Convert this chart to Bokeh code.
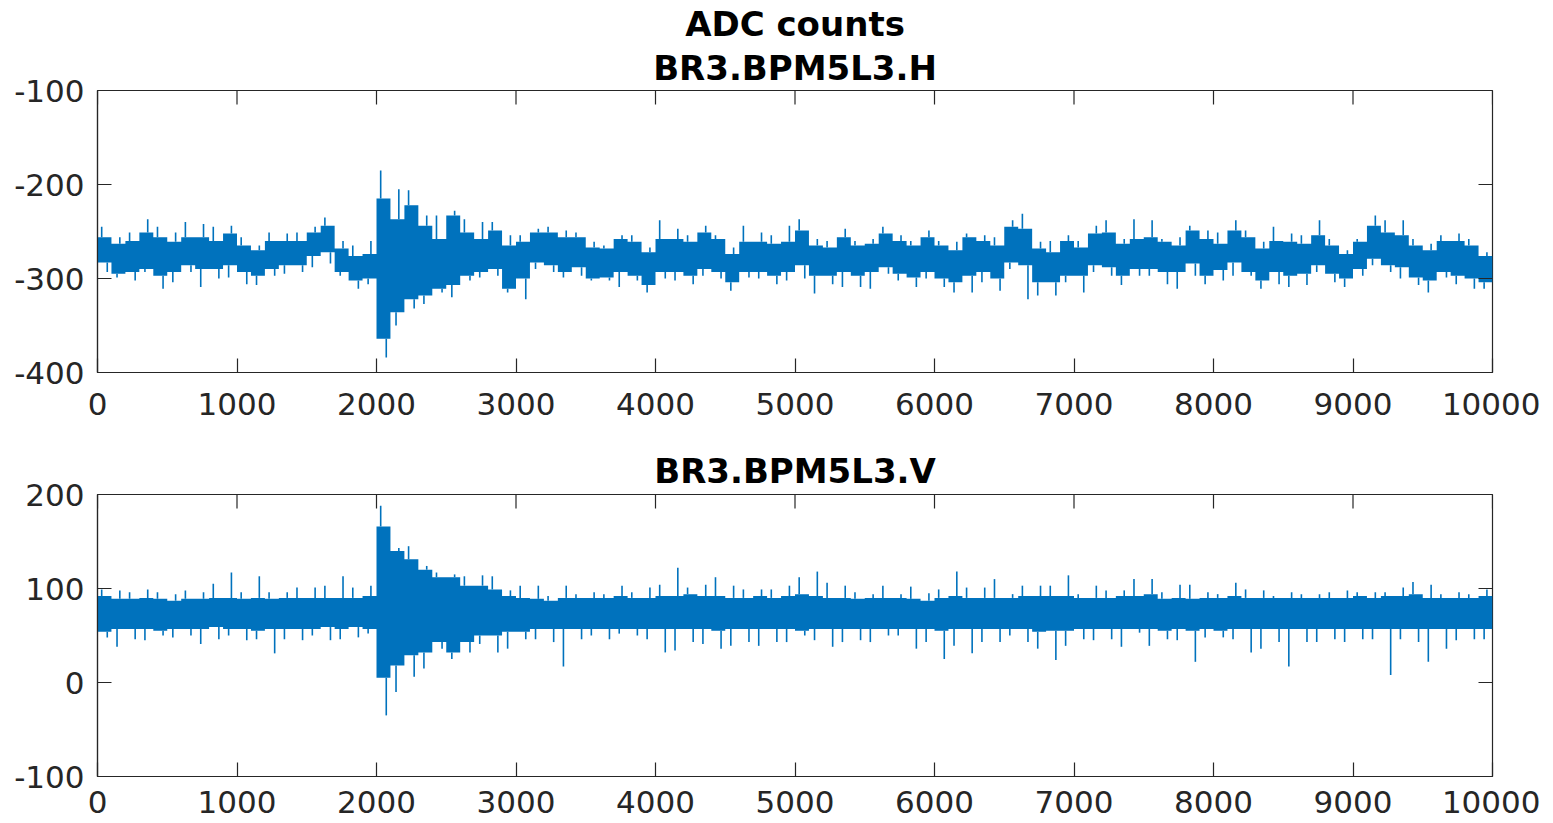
import numpy as np
from bokeh.plotting import figure
from bokeh.layouts import column, row
from bokeh.models import Range1d, FixedTicker, Title, PrintfTickFormatter, Spacer
from bokeh.embed import file_html
from bokeh.resources import INLINE

# ---------------- data (100-sample bins) ----------------
bin_start = list(range(0, 10000, 100))
x_ticks = list(range(0, 10001, 1000))
h_ticks = [-400, -300, -200, -100]
v_ticks = [-100, 0, 100, 200]

main_title = "ADC counts"
h_title = "BR3.BPM5L3.H"
v_title = "BR3.BPM5L3.V"

# horizontal channel: dense band top / bottom, spike extremes
h_core_hi = [-256, -263, -260, -251, -256, -261, -256, -256, -260, -252,
             -265, -270, -260, -260, -260, -251, -244, -268, -276, -274,
             -215, -237, -222, -244, -258, -233, -251, -258, -249, -265,
             -261, -251, -251, -256, -256, -267, -268, -258, -261, -272,
             -258, -258, -261, -251, -258, -274, -261, -261, -263, -261,
             -249, -265, -267, -256, -265, -263, -252, -260, -265, -256,
             -265, -270, -256, -260, -265, -245, -247, -268, -272, -260,
             -267, -252, -251, -263, -258, -256, -261, -265, -249, -258,
             -263, -249, -256, -268, -260, -261, -263, -254, -265, -274,
             -261, -244, -251, -254, -265, -270, -260, -260, -265, -276]
h_core_lo = [-283, -295, -293, -290, -297, -293, -286, -290, -290, -286,
             -293, -297, -290, -286, -286, -276, -272, -293, -302, -300,
             -364, -336, -322, -318, -311, -307, -297, -293, -290, -311,
             -300, -283, -286, -293, -288, -300, -299, -293, -297, -307,
             -293, -293, -297, -290, -293, -304, -293, -293, -297, -293,
             -286, -297, -297, -293, -297, -293, -288, -295, -299, -293,
             -300, -304, -297, -293, -300, -283, -286, -304, -304, -297,
             -297, -286, -288, -297, -290, -290, -293, -293, -284, -297,
             -291, -283, -293, -302, -293, -297, -295, -286, -295, -300,
             -290, -279, -286, -288, -299, -302, -293, -297, -300, -304]
h_spike_hi = [-245, -256, -251, -237, -245, -251, -240, -242, -245, -244,
              -256, -265, -251, -252, -251, -245, -235, -260, -265, -260,
              -185, -205, -206, -233, -233, -228, -237, -240, -240, -254,
              -254, -247, -245, -249, -251, -261, -265, -254, -254, -267,
              -238, -247, -254, -244, -254, -267, -244, -251, -254, -244,
              -237, -258, -260, -247, -260, -258, -245, -254, -260, -249,
              -260, -261, -252, -254, -256, -238, -231, -261, -260, -254,
              -260, -244, -238, -258, -237, -238, -258, -256, -244, -249,
              -251, -238, -249, -261, -245, -252, -254, -238, -258, -270,
              -258, -233, -238, -238, -258, -263, -254, -252, -258, -272]
h_spike_lo = [-293, -299, -302, -293, -311, -304, -293, -309, -300, -299,
              -306, -307, -297, -295, -293, -288, -284, -297, -311, -306,
              -384, -350, -332, -327, -315, -320, -302, -299, -297, -315,
              -322, -290, -293, -299, -297, -302, -302, -309, -302, -315,
              -300, -302, -306, -297, -300, -313, -299, -300, -306, -302,
              -300, -316, -306, -309, -309, -311, -295, -302, -309, -300,
              -309, -315, -315, -304, -313, -290, -322, -318, -318, -304,
              -315, -293, -297, -307, -297, -297, -306, -311, -297, -306,
              -302, -297, -297, -311, -306, -309, -307, -293, -304, -309,
              -297, -286, -293, -300, -307, -315, -299, -306, -311, -311]

# vertical channel
v_core_hi = [92, 89, 89, 90, 89, 87, 89, 89, 90, 90,
             89, 90, 89, 90, 90, 90, 90, 90, 90, 92,
             166, 140, 131, 120, 112, 112, 103, 103, 99, 92,
             90, 89, 87, 90, 90, 90, 90, 92, 90, 90,
             92, 92, 94, 92, 92, 90, 90, 92, 90, 92,
             94, 92, 90, 90, 89, 90, 90, 90, 89, 87,
             90, 92, 90, 90, 90, 90, 92, 92, 92, 92,
             90, 90, 90, 92, 92, 94, 89, 90, 89, 90,
             90, 92, 90, 90, 90, 90, 90, 90, 90, 90,
             92, 90, 92, 92, 94, 90, 90, 90, 90, 92]
v_core_lo = [54, 57, 57, 57, 55, 57, 57, 57, 59, 57,
             57, 55, 57, 57, 57, 57, 59, 57, 59, 57,
             5, 18, 29, 32, 43, 32, 43, 50, 50, 54,
             54, 57, 57, 57, 57, 57, 57, 57, 57, 57,
             57, 57, 57, 57, 55, 57, 57, 57, 57, 57,
             55, 57, 57, 57, 57, 57, 57, 57, 57, 57,
             55, 57, 57, 57, 57, 57, 57, 54, 55, 55,
             57, 57, 57, 57, 57, 57, 55, 57, 55, 57,
             55, 57, 57, 57, 57, 57, 57, 57, 57, 57,
             57, 57, 57, 57, 57, 57, 57, 57, 57, 57]
v_spike_hi = [99, 98, 96, 99, 96, 94, 98, 96, 105, 117,
              96, 113, 96, 96, 101, 101, 103, 113, 101, 103,
              188, 143, 145, 124, 117, 115, 113, 114, 113, 98,
              103, 103, 92, 103, 94, 96, 94, 103, 96, 101,
              104, 122, 101, 104, 112, 103, 99, 99, 99, 103,
              112, 118, 106, 103, 96, 94, 103, 94, 102, 95,
              99, 118, 101, 101, 110, 94, 103, 103, 103, 114,
              94, 103, 98, 98, 110, 110, 96, 104, 104, 96,
              94, 106, 99, 98, 92, 96, 94, 94, 96, 98,
              96, 96, 96, 101, 107, 104, 94, 96, 94, 99]
v_spike_lo = [48, 38, 46, 45, 50, 48, 50, 41, 46, 50,
              45, 46, 31, 46, 45, 50, 45, 46, 48, 52,
              -35, -10, 6, 15, 36, 25, 32, 41, 32, 36,
              46, 46, 43, 17, 46, 50, 46, 52, 50, 46,
              32, 34, 43, 41, 36, 39, 43, 39, 43, 43,
              50, 45, 38, 43, 45, 43, 50, 50, 36, 43,
              25, 39, 31, 43, 43, 50, 43, 36, 24, 39,
              46, 45, 46, 38, 53, 39, 46, 45, 22, 48,
              48, 46, 32, 36, 43, 17, 43, 43, 46, 43,
              46, 46, 8, 46, 43, 22, 36, 45, 46, 46]

# ---------------- styling ----------------
BLUE = "#0072BD"
AX = "#262626"
FONT = "DejaVu Sans"
BIN = 100
TICK_LEN = 14


def make_panel(y_lo, y_hi, yticks, core_hi, core_lo, spk_hi, spk_lo, titles,
               title_standoffs, top_border, bottom_border, x_standoff):
    p = figure(frame_width=1395, frame_height=282,
               x_range=Range1d(0, 10000), y_range=Range1d(y_lo, y_hi),
               output_backend="svg", toolbar_location=None, title=None,
               min_border_left=81, min_border_right=48,
               min_border_top=top_border, min_border_bottom=bottom_border)
    p.background_fill_color = "white"
    p.border_fill_color = "white"
    p.outline_line_color = AX
    p.outline_line_width = 1.2
    p.xgrid.visible = False
    p.ygrid.visible = False

    xs = np.array(bin_start, dtype=float)
    ch = np.array(core_hi, float)
    cl = np.array(core_lo, float)
    # dense band, one step per 100-sample bin
    xe = np.append(xs, 10000.0)
    p.varea_step(x=xe, y1=np.append(cl, cl[-1]), y2=np.append(ch, ch[-1]),
                 step_mode="after", fill_color=BLUE)
    # spikes rising above and dropping below the dense band
    off_hi = np.where(np.arange(len(xs)) % 2 == 0, 0.3, 0.6) * BIN
    off_lo = np.where(np.arange(len(xs)) % 2 == 0, 0.7, 0.4) * BIN
    p.segment(x0=xs + off_hi, y0=ch, x1=xs + off_hi, y1=np.array(spk_hi, float),
              line_color=BLUE, line_width=1.6)
    p.segment(x0=xs + off_lo, y0=cl, x1=xs + off_lo, y1=np.array(spk_lo, float),
              line_color=BLUE, line_width=1.6)

    def style_axis(ax, ticks, standoff):
        ax.ticker = FixedTicker(ticks=ticks)
        ax.formatter = PrintfTickFormatter(format="%d")
        ax.axis_line_color = AX
        ax.axis_line_width = 1.2
        ax.major_tick_line_color = AX
        ax.major_tick_line_width = 1.2
        ax.major_tick_in = TICK_LEN
        ax.major_tick_out = 0
        ax.minor_tick_line_color = None
        ax.major_label_text_font = FONT
        ax.major_label_text_font_size = "31px"
        ax.major_label_text_color = AX
        ax.major_label_standoff = standoff

    style_axis(p.xaxis[0], x_ticks, x_standoff)
    style_axis(p.yaxis[0], yticks, 13)

    # tick marks on the top and right edges of the box (MATLAB style)
    p.ray(x=x_ticks, y=[y_hi] * len(x_ticks), length=TICK_LEN, length_units="screen",
          angle=-np.pi / 2, line_color=AX, line_width=1.2)
    p.ray(x=[10000] * len(yticks), y=yticks, length=TICK_LEN, length_units="screen",
          angle=np.pi, line_color=AX, line_width=1.2)

    for t, s in zip(titles, title_standoffs):
        p.add_layout(Title(text=t, align="center", text_font=FONT,
                           text_font_size="34px", text_font_style="bold",
                           text_color="black", standoff=s), "above")
    return p


p1 = make_panel(-400, -100, h_ticks, h_core_hi, h_core_lo, h_spike_hi, h_spike_lo,
                [h_title, main_title], [5, -1], 80, 56, 20)
p2 = make_panel(-100, 200, v_ticks, v_core_hi, v_core_lo, v_spike_hi, v_spike_lo,
                [v_title], [8], 66, 40, 14)

layout = row(Spacer(width=11),
             column(Spacer(height=2), p1, p2, spacing=0),
             spacing=0)
open("out.html", "w").write(file_html(layout, INLINE))
